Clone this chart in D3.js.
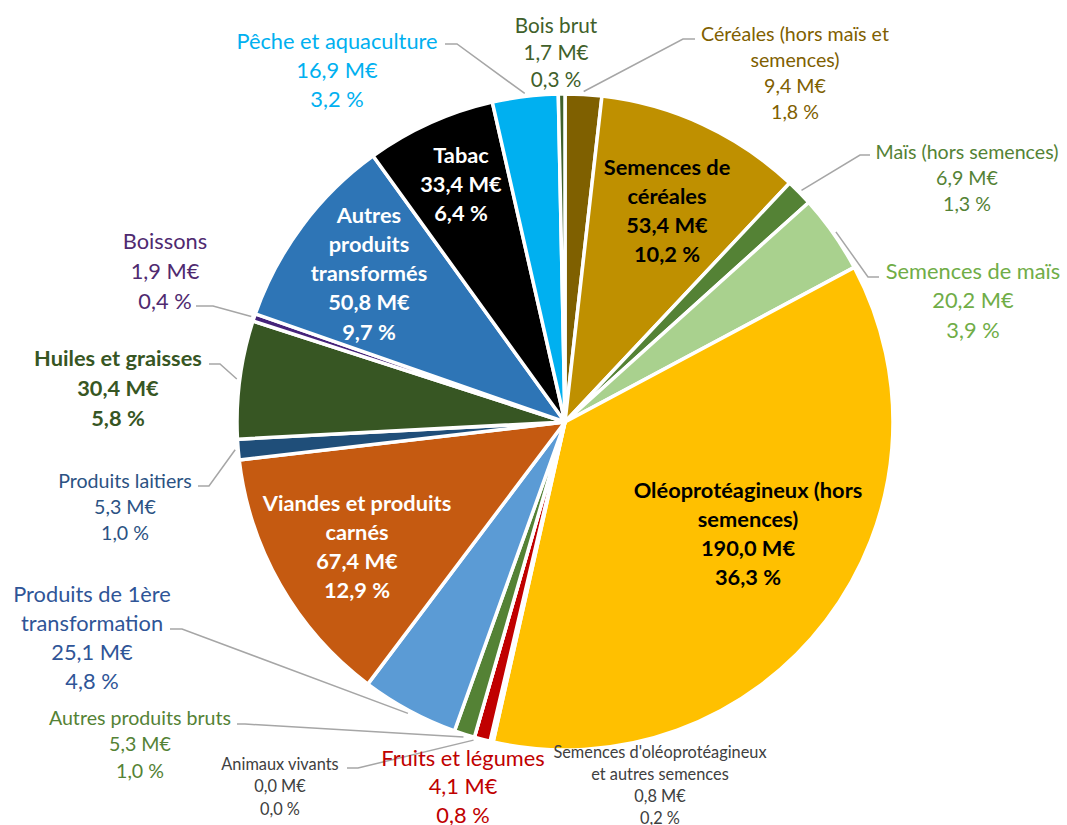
<!DOCTYPE html>
<html>
<head>
<meta charset="utf-8">
<script src="https://cdn.jsdelivr.net/npm/d3@7"></script>
<style>
  body { margin: 0; background: #fff; }
  svg { font-family: Lato, "Open Sans", sans-serif; }
</style>
</head>
<body>
<svg width="1067" height="825"></svg>
<script>
// slices in clockwise order from 12 o'clock, values in M€
const categories = [
    "Céréales (hors maïs et\nsemences)",
    "Semences de\ncéréales",
    "Maïs (hors semences)",
    "Semences de maïs",
    "Oléoprotéagineux (hors\nsemences)",
    "Semences d'oléoprotéagineux\net autres semences",
    "Fruits et légumes",
    "Animaux vivants",
    "Autres produits bruts",
    "Produits de 1ère\ntransformation",
    "Viandes et produits\ncarnés",
    "Produits laitiers",
    "Huiles et graisses",
    "Boissons",
    "Autres\nproduits\ntransformés",
    "Tabac",
    "Pêche et aquaculture",
    "Bois brut"
];
const values = [9.4, 53.4, 6.9, 20.2, 190.0, 0.8, 4.1, 0.0, 5.3, 25.1, 67.4, 5.3, 30.4, 1.9, 50.8, 33.4, 16.9, 1.7];
const colors = ["#7f6000", "#bf9000", "#548235", "#a9d18e", "#ffc000", "#f4b183", "#c00000", "#7f7f7f",
    "#548235", "#5b9bd5", "#c55a11", "#1f4e79", "#375623", "#45237a", "#2e75b6", "#000000", "#00b0f0", "#40602a"];

// label placement (Excel-style), one per slice
const labelLayout = [
    {x: 795, y: 33, fs: 18, lh: 26, color: "#7f6000", leader: [[695, 39], [683, 39]]},
    {inside: true, x: 667, y: 166, fs: 20, lh: 29.3, color: "#000"},
    {x: 967, y: 151, fs: 18, lh: 26, color: "#548235", leader: [[870, 155], [860, 155]]},
    {x: 973, y: 270, fs: 20, lh: 29.5, color: "#70ad47", leader: [[879, 277], [868, 277]]},
    {inside: true, x: 748, y: 489, fs: 20, lh: 29.3, color: "#000"},
    {x: 660, y: 751, fs: 15, lh: 22, color: "#404040"},
    {x: 463, y: 757, fs: 20, lh: 28.5, color: "#c00000"},
    {x: 280, y: 763, fs: 15, lh: 22.5, color: "#404040", leader: [[347, 768], [358, 768]]},
    {x: 140, y: 717, fs: 18, lh: 26.5, color: "#548235", leader: [[237, 724], [245, 724]]},
    {x: 92, y: 593, fs: 20, lh: 29, color: "#2f5597", leader: [[170, 629], [182, 629]]},
    {inside: true, x: 357, y: 502, fs: 20, lh: 29.3, color: "#fff"},
    {x: 125, y: 480, fs: 18, lh: 26, color: "#2b5283", leader: [[198, 486], [209, 486]]},
    {x: 118, y: 357, fs: 20, lh: 30, color: "#375623", bold: true, leader: [[209, 364], [220, 364]]},
    {x: 165, y: 240, fs: 20, lh: 30, color: "#4f2a70", leader: [[196, 306], [213, 306]]},
    {inside: true, x: 369, y: 214, fs: 20, lh: 29.3, color: "#fff"},
    {inside: true, x: 461, y: 154, fs: 20, lh: 29, color: "#fff"},
    {x: 337, y: 40, fs: 20, lh: 29, color: "#00b0f0", leader: [[445, 44], [457, 44]]},
    {x: 556, y: 25, fs: 19, lh: 27, color: "#40602a"}
];
// Lato runs a little narrower than the original face
const fontScale = 1.09;

const cx = 565;
const cy = 422;
const radius = 328;

const total = d3.sum(values);
const fmtVal = d3.format(".1f");
const valueText = (v) => fmtVal(v).replace(".", ",") + " M€";
const pctText = (v) => fmtVal(v / total * 100).replace(".", ",") + " %";

const svg = d3.select("svg");
const g = svg.append("g").attr("transform", `translate(${cx},${cy})`);

const pie = d3.pie().sort(null).value((d) => d)(values);
const arc = d3.arc().innerRadius(0).outerRadius(radius);

g.selectAll("path.slice")
    .data(pie)
    .enter()
    .append("path")
    .attr("class", "slice")
    .attr("d", arc)
    .attr("fill", (d, i) => colors[i])
    .attr("stroke", "#fff")
    .attr("stroke-width", 3.5)
    .attr("stroke-linejoin", "round");

// leader lines, ending on the slice edge
const edge = d3.arc().innerRadius(radius + 3).outerRadius(radius + 3);
pie.forEach((d, i) => {
    const lay = labelLayout[i];
    if (!lay.leader) return;
    const end = edge.centroid(d);
    const pts = lay.leader.concat([[end[0] + cx, end[1] + cy]]);
    svg.append("path")
        .attr("d", d3.line()(pts))
        .attr("fill", "none")
        .attr("stroke", "#a6a6a6")
        .attr("stroke-width", 1.5);
});

// data labels
pie.forEach((d, i) => {
    const lay = labelLayout[i];
    const lines = categories[i].split("\n").concat([valueText(values[i]), pctText(values[i])]);
    const t = svg.append("text")
        .attr("text-anchor", "middle")
        .attr("font-size", lay.fs * fontScale)
        .attr("font-weight", (lay.inside || lay.bold) ? "bold" : "normal")
        .attr("fill", lay.color);
    lines.forEach((line, k) => {
        t.append("tspan")
            .attr("x", lay.x)
            .attr("y", lay.y + k * lay.lh)
            .attr("dominant-baseline", "central")
            .text(line);
    });
});
</script>
</body>
</html>
